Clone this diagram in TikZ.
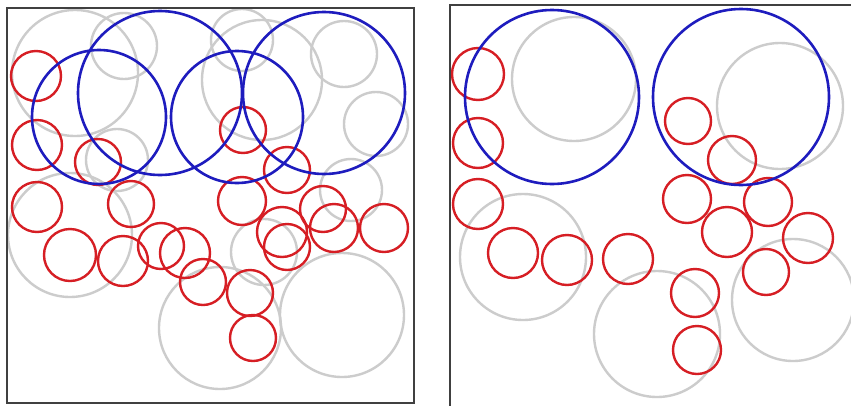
\documentclass[tikz,border=0pt]{standalone}
\begin{document}
\begin{tikzpicture}[x=1pt,y=-1pt,
  frm/.style={draw=black!75,line width=1.6pt},
  gc/.style={draw=black!20,line width=2.4pt},
  rc/.style={draw={rgb,255:red,214;green,30;blue,36},line width=2.4pt},
  bc/.style={draw={rgb,255:red,30;green,28;blue,190},line width=2.6pt}]
\useasboundingbox (0,0) rectangle (851,405);
\fill[white] (0,0) rectangle (851,405);
% ---------- left panel ----------
\begin{scope}
\clip (7,8) rectangle (414,403);
% gray
\foreach \x/\y/\r in {75/73/63, 124/46/33, 117/160/31, 70/235/62, 242/40/31, 262/80/60,
  344/54/33, 376/124/32, 351/190/31, 264/252/33, 342/315/62, 220/328/61}
  \draw[gc] (\x,\y) circle (\r);
% red
\foreach \x/\y/\r in {36/76/25, 37/145/25, 98/162/23, 37/207/25, 131/204/23, 70/255/26,
  123/261/25, 161/246/23, 185/253/25, 203/282/23, 243/130/23, 287/170/23, 242/201/24,
  323/209/23, 282/232/25, 287/247/23, 334/228/24, 384/228/24, 250/293/23, 253/338/23}
  \draw[rc] (\x,\y) circle (\r);
% blue
\foreach \x/\y/\r in {160/93/82, 99/117/67, 237/117/66, 324/93/81}
  \draw[bc] (\x,\y) circle (\r);
\end{scope}
\draw[frm] (7,8) rectangle (414,403);
% ---------- right panel ----------
\begin{scope}
\clip (450,5) rectangle (851,405);
\foreach \x/\y/\r in {574/79/62, 780/106/63, 523/257/63, 657/334/63, 793/300/61}
  \draw[gc] (\x,\y) circle (\r);
\foreach \x/\y/\r in {478/74/26, 478/143/25, 478/204/25, 513/253/25, 567/260/25, 628/259/25,
  688/121/23, 732/160/24, 687/199/24, 768/202/24, 727/232/25, 808/238/25, 766/272/23,
  695/293/24, 697/350/24}
  \draw[rc] (\x,\y) circle (\r);
\foreach \x/\y/\r in {552/97/87, 741/97/88}
  \draw[bc] (\x,\y) circle (\r);
\end{scope}
\draw[frm] (450,410) -- (450,5) -- (856,5);
\end{tikzpicture}
\end{document}
